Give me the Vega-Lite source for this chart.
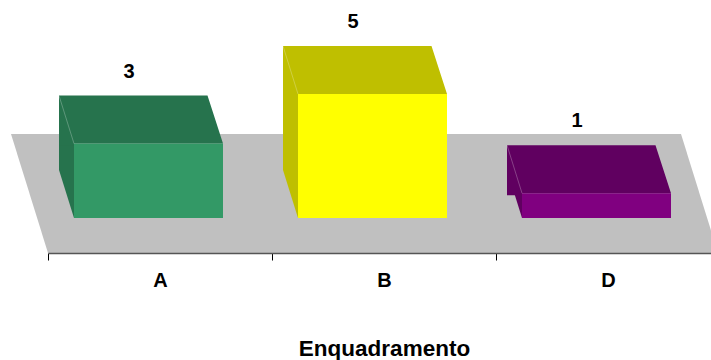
{
  "$schema": "https://vega.github.io/schema/vega-lite/v6.json",
  "width": 663,
  "height": 124,
  "autosize": {"type": "none"},
  "padding": {"left": 48, "top": 94, "right": 0, "bottom": 142},
  "background": "white",
  "config": {"view": {"stroke": null}, "font": "Liberation Sans"},
  "data": {"values": [
    {"cat": "A", "value": 3},
    {"cat": "B", "value": 5},
    {"cat": "D", "value": 1}
  ]},
  "encoding": {
    "x": {
      "field": "cat", "type": "nominal",
      "scale": {"domain": ["A", "B", "D"], "range": [0, 672], "paddingInner": 0, "paddingOuter": 0},
      "axis": {
        "title": "Enquadramento",
        "orient": "bottom",
        "offset": 35,
        "zindex": 1,
        "domainColor": "#555555",
        "domainWidth": 1.5,
        "tickColor": "#000000",
        "tickSize": 7,
        "tickWidth": 1,
        "tickBand": "extent",
        "labelAngle": 0,
        "labelFont": "Liberation Sans",
        "labelFontSize": 20,
        "labelFontWeight": "bold",
        "labelColor": "#000000",
        "labelPadding": 10,
        "titleFont": "Liberation Sans",
        "titleFontSize": 22.5,
        "titleFontWeight": "bold",
        "titleColor": "#000000",
        "titleBaseline": "alphabetic",
        "titleY": 102,
        "grid": false
      }
    },
    "y": {
      "field": "value", "type": "quantitative",
      "scale": {"domain": [0, 5], "nice": false, "zero": true},
      "axis": null
    }
  },
  "layer": [
    {
      "transform": [{"filter": "datum.cat === 'B'"}],
      "mark": {"type": "point", "shape": "M-373,-84L297,-84L334,35L-336,35Z", "size": 4, "filled": true, "color": "#C0C0C0", "opacity": 1, "strokeWidth": 0},
      "encoding": {
        "y": {"datum": 0, "type": "quantitative", "axis": null}
      }
    },
    {
      "mark": {"type": "bar", "width": 15, "xOffset": -93.5},
      "encoding": {
        "color": {"field": "cat", "type": "nominal", "scale": {"domain": ["A", "B", "D"], "range": ["#26734D", "#BFBF00", "#600060"]}, "legend": null}
      }
    },
    {
      "mark": {"type": "point", "shape": "M-102,-48L-101,-48L-86,0L-86,1.5L-102,1.5Z", "size": 4, "filled": true, "color": "#C0C0C0", "opacity": 1, "strokeWidth": 0},
      "encoding": {
        "y": {"datum": 0, "type": "quantitative", "axis": null}
      }
    },
    {
      "mark": {"type": "point", "shape": "M-101,-48L47.5,-48L63,0L-86,0L-86,2L-101,2Z", "size": 4, "filled": true, "opacity": 1, "strokeWidth": 0},
      "encoding": {
        "color": {"field": "cat", "type": "nominal", "scale": {"domain": ["A", "B", "D"], "range": ["#26734D", "#BFBF00", "#600060"]}, "legend": null}
      }
    },
    {
      "mark": {"type": "bar", "width": 149, "xOffset": -11.5},
      "encoding": {
        "color": {"field": "cat", "type": "nominal", "scale": {"domain": ["A", "B", "D"], "range": ["#339966", "#FFFF00", "#800080"]}, "legend": null}
      }
    },
    {
      "mark": {"type": "rule", "xOffset": -101, "x2Offset": -86, "yOffset": -48, "y2Offset": 0, "color": "#FFFFFF", "opacity": 0.25, "strokeWidth": 1},
      "encoding": {
        "x2": {"field": "cat"},
        "y2": {"field": "value"}
      }
    },
    {
      "mark": {"type": "text", "dx": -31, "dy": -72, "fontSize": 20, "fontWeight": "bold", "font": "Liberation Sans", "color": "#000000"},
      "encoding": {
        "text": {"field": "value", "type": "quantitative"}
      }
    }
  ],
  "resolve": {"scale": {"color": "independent"}}
}
